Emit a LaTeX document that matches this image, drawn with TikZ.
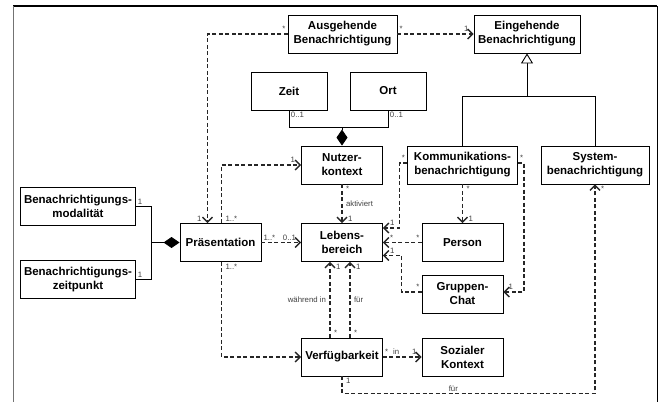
\documentclass[tikz,border=0pt]{standalone}
\usepackage{fontspec}
\setmainfont{Liberation Sans}
\usetikzlibrary{arrows.meta,calc}

\tikzset{
  klasse/.style={draw,line width=0.9pt,fill=white,align=center,inner sep=0pt,
    minimum width=#1,minimum height=38pt,font=\fontsize{11.5}{14}\selectfont\bfseries},
  klasse/.default=81pt,
  abh/.style={dash pattern=on 4pt off 2.5pt,line width=1.1pt,black!85,
    -{Straight Barb[length=5pt,width=10pt,line width=1.3pt]}},
  linie/.style={line width=0.9pt},
  komp/.style={line width=0.9pt,{Diamond[length=16pt,width=11pt]}-},
  gen/.style={line width=0.9pt,-{Triangle[open,length=10pt,width=12pt,fill=white]}},
  mult/.style={font=\fontsize{7.8}{8}\selectfont,text=black!75,inner sep=1.5pt}
}

\begin{document}
\begin{tikzpicture}[x=1pt,y=-1pt]
  \useasboundingbox (0,0) rectangle (658,402);
  \draw[line width=1.5pt] (13,6) -- (657,6);
  \draw[black!55,line width=1pt] (13,6) -- (13,402);
  \draw[line width=1pt] (657,6) -- (657,402);

  \node[klasse=109pt] (ausg) at (342.5,34) {Ausgehende\\Benachrichtigung};
  \node[klasse=106pt] (eing) at (527,34) {Eingehende\\Benachrichtigung};
  \node[klasse=76pt] (zeit) at (289,91) {Zeit};
  \node[klasse=76pt] (ort) at (388,91) {Ort};
  \node[klasse] (nutzer) at (342,165) {Nutzer-\\kontext};
  \node[klasse=110pt] (komm) at (462.5,165) {Kommunikations-\\benachrichtigung};
  \node[klasse=108pt] (system) at (595,165) {System-\\benachrichtigung};
  \node[klasse=115pt] (modal) at (78,206.5) {Benachrichtigungs-\\modalität};
  \node[klasse=115pt] (zeitp) at (78,279.5) {Benachrichtigungs-\\zeitpunkt};
  \node[klasse] (praes) at (220.5,242.5) {Präsentation};
  \node[klasse] (leb) at (342,242.5) {Lebens-\\bereich};
  \node[klasse] (person) at (462.5,242.5) {Person};
  \node[klasse] (gruppe) at (462.5,294) {Gruppen-\\Chat};
  \node[klasse] (verf) at (342,357) {Verfügbarkeit};
  \node[klasse] (sozial) at (462.5,357) {Sozialer\\Kontext};

  \draw[linie] (komm.north) -- ++(0,-49) coordinate (gen) -| (system.north);
  \draw[gen] (eing.south |- gen) -- (eing.south);

  \draw[linie] (zeit.south) node[mult,anchor=north west]{0..1} -- ++(0,17) -| (ort.south) node[mult,anchor=north west]{0..1};
  \draw[komp] (nutzer.north) -- ++(0,-19);
  \draw[linie] (modal.east) node[mult,anchor=south west]{1} -- ++(15,0) |- (zeitp.east) node[mult,anchor=south west]{1};
  \draw[komp] (praes.west) -- ([xshift=15pt]modal.east |- praes.west);

  \draw[abh] (ausg) -- (eing) node[mult,pos=0,anchor=south west]{*} node[mult,pos=1,anchor=south east,xshift=-3pt]{1};
  \draw[abh] (ausg.west) node[mult,anchor=south east]{*} -| ([xshift=-13pt]praes.north) node[mult,anchor=south east,xshift=-4pt]{1};
  \draw[abh] ([xshift=1pt]praes.north) node[mult,anchor=south west,xshift=2pt]{1..*} |- (nutzer.west) node[mult,anchor=south east,xshift=-4pt]{1};
  \draw[abh] (praes) -- (leb) node[mult,pos=0,anchor=south west]{1..*} node[mult,pos=1,anchor=south east,xshift=-3pt]{0..1};
  \draw[abh] ([xshift=1pt]praes.south) node[mult,anchor=north west,xshift=2pt]{1..*} |- (verf.west);
  \draw[abh] (nutzer) -- (leb) node[mult,pos=0,anchor=north west,xshift=2pt]{*} node[mult,midway,anchor=west,xshift=2pt]{aktiviert} node[mult,pos=1,anchor=south west,xshift=4pt]{1};

  \draw[abh] ([yshift=2pt]komm.west) node[mult,anchor=south east]{*} -- ++(-8,0) |- ([yshift=14.5pt]leb.east) node[mult,anchor=south west,xshift=5pt]{1};
  \draw[abh] (person) -- (leb) node[mult,pos=0,anchor=south east]{*} node[mult,pos=1,anchor=south west,xshift=5pt]{*};
  \draw[abh] ([yshift=2pt]gruppe.west) node[mult,anchor=south east]{*} -- ++(-20,0) |- ([yshift=-13pt]leb.east) node[mult,anchor=south west,xshift=5pt]{1};
  \draw[abh] (komm) -- (person) node[mult,pos=0,anchor=north west,xshift=2pt]{*} node[mult,pos=1,anchor=south west,xshift=4pt]{1};
  \draw[abh] ([yshift=2pt]komm.east) node[mult,anchor=south west]{*} -- ++(6,0) |- ([yshift=2pt]gruppe.east) node[mult,anchor=south west,xshift=3pt]{1};

  \draw[abh] ([xshift=-12pt]verf.north) node[mult,anchor=south west,xshift=2pt]{*} -- ([xshift=-12pt]leb.south) node[mult,anchor=north west,xshift=4pt]{1} node[mult,midway,anchor=east,xshift=-2pt]{während in};
  \draw[abh] ([xshift=8pt]verf.north) node[mult,anchor=south west,xshift=2pt]{*} -- ([xshift=8pt]leb.south) node[mult,anchor=north west,xshift=4pt]{1} node[mult,midway,anchor=west,xshift=2pt]{für};
  \draw[abh] (verf) -- (sozial) node[mult,pos=0,anchor=south west]{*\hspace{5pt}in} node[mult,pos=1,anchor=south east,xshift=-3pt]{1};
  \draw[abh] (verf.south) node[mult,anchor=north west,xshift=2pt]{1} -- ++(0,17) -| (system.south) node[mult,pos=0.22,anchor=south]{für} node[mult,anchor=north west,xshift=4pt]{*};
\end{tikzpicture}
\end{document}
